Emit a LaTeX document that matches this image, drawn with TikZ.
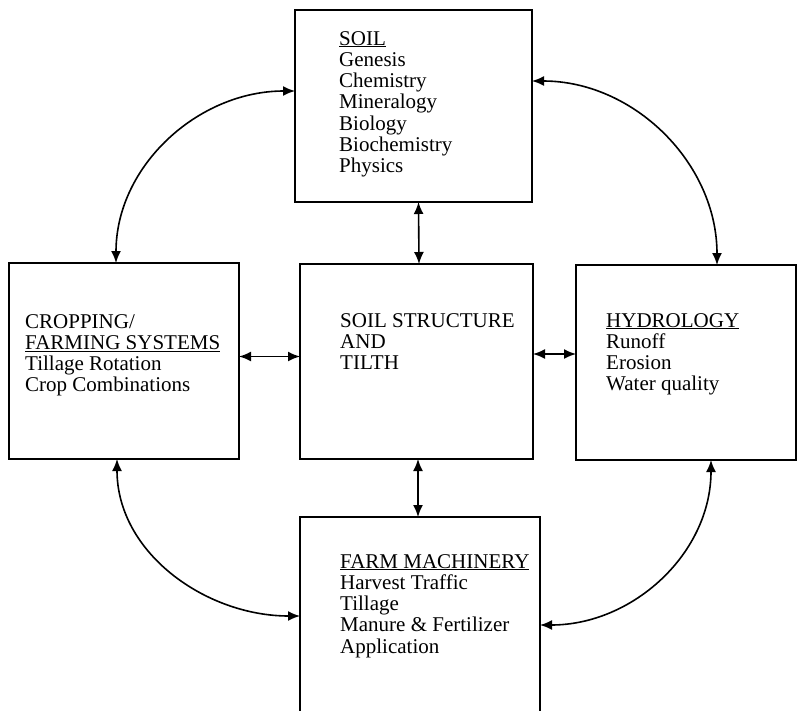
\documentclass[tikz,border=0pt]{standalone}
\usepackage{fontspec}
\setmainfont{Liberation Serif}
\usetikzlibrary{arrows.meta}

\begin{document}
\begin{tikzpicture}
[x=1pt,y=-1pt,>={Latex[length=12pt,width=10pt]},
 box/.style={draw,line width=2pt,inner sep=0pt,outer sep=0pt},
 txt/.style={anchor=base west,align=left,inner sep=0pt,font=\fontsize{21}{21.3}\selectfont},
 link/.style={<->,line width=1.6pt}]

\useasboundingbox (0,0) rectangle (798,710);
\clip (0,0) rectangle (798,710);

%boxes
\node[box,minimum width=237pt,minimum height=192pt] (soil) at (413.5,106) {};
\node[box,minimum width=230pt,minimum height=196pt] (crop) at (124,361) {};
\node[box,minimum width=233pt,minimum height=195pt] (tilth) at (416.5,361.5) {};
\node[box,minimum width=220pt,minimum height=195pt] (hydro) at (686,362.5) {};
\node[box,minimum width=240pt,minimum height=223pt] (farm) at (420,628.5) {};

%texts (placed at the baseline of the last line)
\node[txt] (soiltxt) at (339,172.8) {\underline{SOIL}\\Genesis\\Chemistry\\Mineralogy\\Biology\\Biochemistry\\Physics};
\node[txt] (croptxt) at (25,391.9) {CROPPING/\\\underline{FARMING SYSTEMS}\\Tillage Rotation\\Crop Combinations};
\node[txt] (tilthtxt) at (340,369.6) {SOIL STRUCTURE\\AND\\TILTH};
\node[txt] (hydrotxt) at (606,390.9) {\underline{HYDROLOGY}\\Runoff\\Erosion\\Water quality};
\node[txt] (farmtxt) at (340,653.2) {\underline{FARM MACHINERY}\\Harvest Traffic\\Tillage\\Manure \& Fertilizer\\Application};

%straight links
\draw[link] ([xshift=5pt]soil.south) -- ([xshift=2.5pt]tilth.north);
\draw[link] ([yshift=4.5pt]crop.east) -- ([yshift=5pt]tilth.west);
\draw[link] ([yshift=7.5pt]tilth.east) -- ([yshift=8.5pt]hydro.west);
\draw[link] ([xshift=1.5pt]tilth.south) -- ([xshift=-2pt]farm.north);

%curved links
\draw[link] ([yshift=15pt]soil.west) to[out=180,in=90] ([xshift=-8pt]crop.north);
\draw[link] ([yshift=25pt]soil.east) to[out=0,in=90] ([xshift=31pt]hydro.north);
\draw[link] ([xshift=-7pt]crop.south) to[out=-90,in=180] ([yshift=12.5pt]farm.west);
\draw[link] ([xshift=25pt]hydro.south) to[out=-90,in=0] ([yshift=3.5pt]farm.east);

\end{tikzpicture}
\end{document}
